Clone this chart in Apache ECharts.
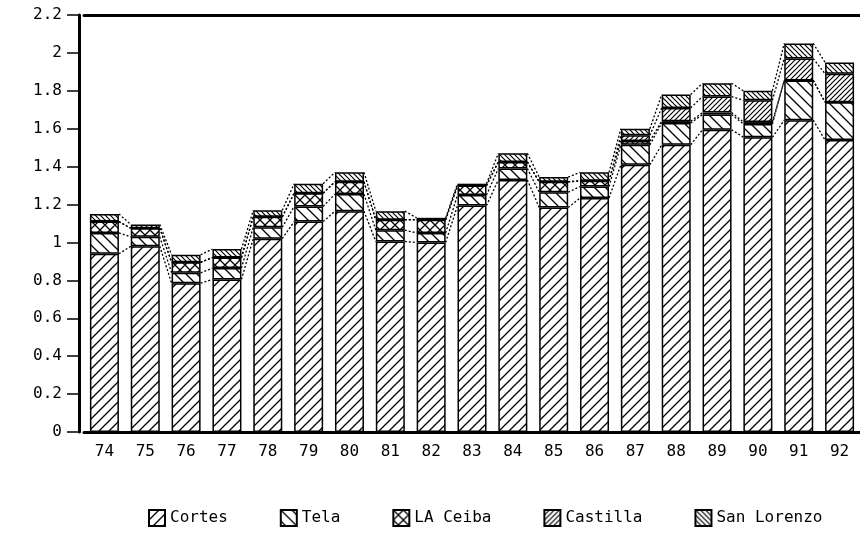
<!DOCTYPE html>
<html>
<head>
<meta charset="utf-8">
<script src="https://cdn.jsdelivr.net/npm/echarts@6/dist/echarts.min.js"></script>
<style>
  html, body { margin: 0; padding: 0; background: #fff; }
  #chart { width: 860px; height: 556px; }
</style>
</head>
<body>
<div id="chart"></div>
<script>
var years = ['74','75','76','77','78','79','80','81','82','83','84','85','86','87','88','89','90','91','92'];
var cortes     = [0.94, 0.98, 0.785, 0.805, 1.02, 1.11, 1.165, 1.005, 1.0, 1.195, 1.33, 1.185, 1.235, 1.41, 1.515, 1.595, 1.555, 1.645, 1.54];
var tela       = [0.11, 0.05, 0.055, 0.06, 0.06, 0.08, 0.09, 0.06, 0.05, 0.055, 0.06, 0.08, 0.06, 0.105, 0.115, 0.08, 0.07, 0.21, 0.2];
var laCeiba    = [0.06, 0.045, 0.055, 0.055, 0.055, 0.07, 0.065, 0.055, 0.07, 0.05, 0.035, 0.055, 0.03, 0.02, 0.01, 0.01, 0.01, 0, 0];
var castilla   = [0, 0, 0, 0, 0, 0, 0, 0, 0, 0, 0, 0, 0, 0.03, 0.07, 0.085, 0.115, 0.115, 0.15];
var sanLorenzo = [0.04, 0.02, 0.04, 0.045, 0.035, 0.05, 0.05, 0.045, 0.01, 0.01, 0.045, 0.025, 0.045, 0.035, 0.07, 0.07, 0.05, 0.08, 0.06];

var names = ['Cortes', 'Tela', 'LA Ceiba', 'Castilla', 'San Lorenzo'];
var values = [cortes, tela, laCeiba, castilla, sanLorenzo];

var barW = 29;
var font = 'DejaVu Sans Mono';

// hatch fill tiles
function hatch(size, fwd, back, lw) {
  var c = document.createElement('canvas');
  c.width = size; c.height = size;
  var g = c.getContext('2d');
  g.fillStyle = '#fff';
  g.fillRect(0, 0, size, size);
  g.strokeStyle = '#000';
  g.lineWidth = lw;
  g.beginPath();
  if (fwd) {
    g.moveTo(0, size); g.lineTo(size, 0);
    g.moveTo(-size / 2, size / 2); g.lineTo(size / 2, -size / 2);
    g.moveTo(size / 2, size * 1.5); g.lineTo(size * 1.5, size / 2);
  }
  if (back) {
    g.moveTo(0, 0); g.lineTo(size, size);
    g.moveTo(-size / 2, size / 2); g.lineTo(size / 2, size * 1.5);
    g.moveTo(size / 2, -size / 2); g.lineTo(size * 1.5, size / 2);
  }
  g.stroke();
  return c;
}

var fills = [
  hatch(10, true, false, 1.3),
  hatch(11, false, true, 1.3),
  hatch(10, true, true, 1.3),
  hatch(5, true, false, 1.2),
  hatch(5, false, true, 1.2)
];

var series = names.map(function (n, k) {
  return {
    name: n,
    type: 'bar',
    stack: 'total',
    barWidth: barW,
    data: values[k],
    itemStyle: {
      color: { image: fills[k], repeat: 'repeat' },
      borderColor: '#000',
      borderWidth: 1.5
    },
    emphasis: { disabled: true }
  };
});

// dotted series lines between neighbouring bars
var lineData = [];
for (var i = 0; i < years.length - 1; i++) {
  var a = 0, b = 0;
  for (var k = 0; k < values.length; k++) {
    a += values[k][i];
    b += values[k][i + 1];
    lineData.push([i, +a.toFixed(4), +b.toFixed(4)]);
  }
}

series.push({
  type: 'custom',
  name: 'lines',
  silent: true,
  data: lineData,
  encode: { x: 0, y: [1, 2] },
  z: 5,
  renderItem: function (params, api) {
    var i = api.value(0);
    var p1 = api.coord([i, api.value(1)]);
    var p2 = api.coord([i + 1, api.value(2)]);
    return {
      type: 'line',
      shape: { x1: p1[0] + barW / 2, y1: p1[1], x2: p2[0] - barW / 2, y2: p2[1] },
      style: { stroke: '#000', lineWidth: 1.3, lineDash: [2, 2] }
    };
  }
});

var chart = echarts.init(document.getElementById('chart'));
chart.setOption({
  animation: false,
  backgroundColor: '#fff',
  grid: { left: 84, right: 0, top: 15, bottom: 124 },
  legend: {
    data: names,
    bottom: 24,
    left: 143,
    icon: 'rect',
    itemWidth: 16,
    itemHeight: 16,
    itemGap: 52,
    selectedMode: false,
    textStyle: { fontFamily: font, fontSize: 16, color: '#000' }
  },
  xAxis: [{
    type: 'category',
    data: years,
    axisLine: { lineStyle: { color: '#000', width: 3 } },
    axisTick: { alignWithLabel: true, length: 8, lineStyle: { color: '#000', width: 1.5 } },
    axisLabel: { color: '#000', fontFamily: font, fontSize: 16, margin: 12 }
  }, {
    type: 'category',
    position: 'top',
    data: years,
    axisLine: { lineStyle: { color: '#000', width: 3 } },
    axisTick: { show: false },
    axisLabel: { show: false }
  }],
  yAxis: {
    type: 'value',
    min: 0,
    max: 2.2,
    interval: 0.2,
    offset: 5,
    axisLine: { show: true, lineStyle: { color: '#000', width: 3 } },
    axisTick: { show: true, length: 12, lineStyle: { color: '#000', width: 1.5 } },
    axisLabel: { color: '#000', fontFamily: font, fontSize: 16, margin: 17 },
    splitLine: { show: false }
  },
  series: series
});
</script>
</body>
</html>
